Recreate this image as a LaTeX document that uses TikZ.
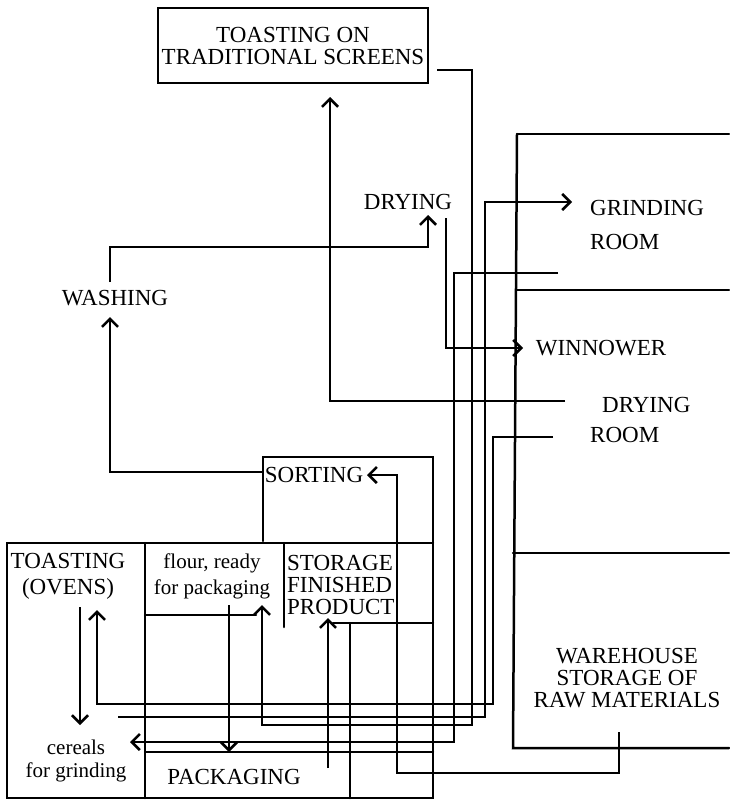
\documentclass[tikz,border=0pt]{standalone}
\usepackage{fontspec}
\setmainfont{Liberation Serif}
\usetikzlibrary{arrows.meta}
\begin{document}
\begin{tikzpicture}[x={(1pt,0)},y={(0,-1pt)},
  wall/.style={line width=2.5pt, line cap=round},
  flow/.style={line width=2.6pt, -{Straight Barb[length=8pt,width=16pt]}},
  lbl/.style={inner sep=0pt, font=\fontsize{23}{22}\selectfont},
  lowlbl/.style={inner sep=0pt, align=center},
  boxed/.style={draw, line width=2.4pt, minimum width=270pt, minimum height=75pt, inner sep=0pt, align=center, font=\fontsize{23}{22}\selectfont}]
\useasboundingbox (0,0) rectangle (729,800);

% ---------- rooms / walls ----------
\draw[wall] (517,134) -- (729,134);
\draw[wall] (517,134) -- (513,748) -- (729,748);
\draw[wall] (517,290) -- (729,290);
\draw[wall] (513,553) -- (729,553);
\draw[wall] (263,541) -- (263,457) -- (433,457) -- (433,798) -- (7,798) -- (7,543) -- (433,543);
\draw[wall] (145,543) -- (145,798);
\draw[wall] (145,615) -- (256,615);
\draw[wall] (284,543) -- (284,627);
\draw[wall] (333,623) -- (433,623);
\draw[wall] (350,623) -- (350,798);
\draw[wall] (145,752) -- (433,752);

% ---------- labels ----------
\node[boxed] (screens) at (293,45.5) {TOASTING ON\\TRADITIONAL SCREENS};
\node[lbl] (drying) at (408,202) {DRYING};
\node[lbl, anchor=west, align=left] (grinding) at (590,225) {GRINDING\\[12pt]ROOM};
\node[lbl] (winnower) at (601,348) {WINNOWER};
\node[lbl, anchor=west] (dryroom) at (602,405) {DRYING};
\node[lbl, anchor=west] (dryroom2) at (590,435) {ROOM};
\node[lbl] (washing) at (115,298) {WASHING};
\node[lbl] (sorting) at (314,475) {SORTING};
\node[lbl, align=center, font=\fontsize{23}{26}\selectfont] (ovens) at (68,576) {TOASTING\\(OVENS)};
\node[lowlbl, font=\fontsize{21}{26}\selectfont] (flour) at (212,576) {flour, ready\\for packaging};
\node[lbl, anchor=west, align=left] (storage) at (287,585) {STORAGE\\FINISHED\\PRODUCT};
\node[lowlbl, font=\fontsize{21}{23}\selectfont] (cereals) at (76,761) {cereals\\for grinding};
\node[lbl] (packaging) at (234,777) {PACKAGING};
\node[lbl, align=center] (warehouse) at (627,678) {WAREHOUSE\\STORAGE OF\\RAW MATERIALS};

% ---------- connector end points ----------
\coordinate (sortOut) at (263,472);
\coordinate (washIn) at (110,317);
\coordinate (washOut) at (110,282);
\coordinate (dryIn) at (428,215);
\coordinate (dryOut) at (446,218);
\coordinate (winIn) at (523,348);
\coordinate (dryRoomA) at (565,401);
\coordinate (screensIn) at (330,97);
\coordinate (screensOut) at (437,70);
\coordinate (flourIn) at (262,605);
\coordinate (cerealsOut) at (118,717);
\coordinate (grindIn) at (572,202);
\coordinate (grindOut) at (558,273);
\coordinate (cerealsIn) at (130,742);
\coordinate (dryRoomB) at (553,437);
\coordinate (ovensIn) at (97,610);
\coordinate (ovensOut) at (80,607);
\coordinate (cerealsTop) at (80,725);
\coordinate (flourOut) at (229,605);
\coordinate (packIn) at (229,752);
\coordinate (packOut) at (328,768);
\coordinate (storeIn) at (328,618);
\coordinate (wareOut) at (619,732);
\coordinate (sortIn) at (367,475);

% ---------- flows ----------
\draw[flow] (sortOut) -| (washIn);
\draw[flow] (washOut) -- (110,247) -- (428,247) -- (dryIn);
\draw[flow] (dryOut) |- (winIn);
\draw[flow] (dryRoomA) -| (screensIn);
\draw[flow] (screensOut) -| (472,725) -| (flourIn);
\draw[flow] (cerealsOut) -| (485,202) -- (grindIn);
\draw[flow] (grindOut) -| (454,742) -- (cerealsIn);
\draw[flow] (dryRoomB) -| (493,704) -| (ovensIn);
\draw[flow] (ovensOut) -- (cerealsTop);
\draw[flow] (flourOut) -- (packIn);
\draw[flow] (packOut) -- (storeIn);
\draw[flow] (wareOut) |- (397,773) |- (sortIn);
\end{tikzpicture}
\end{document}
